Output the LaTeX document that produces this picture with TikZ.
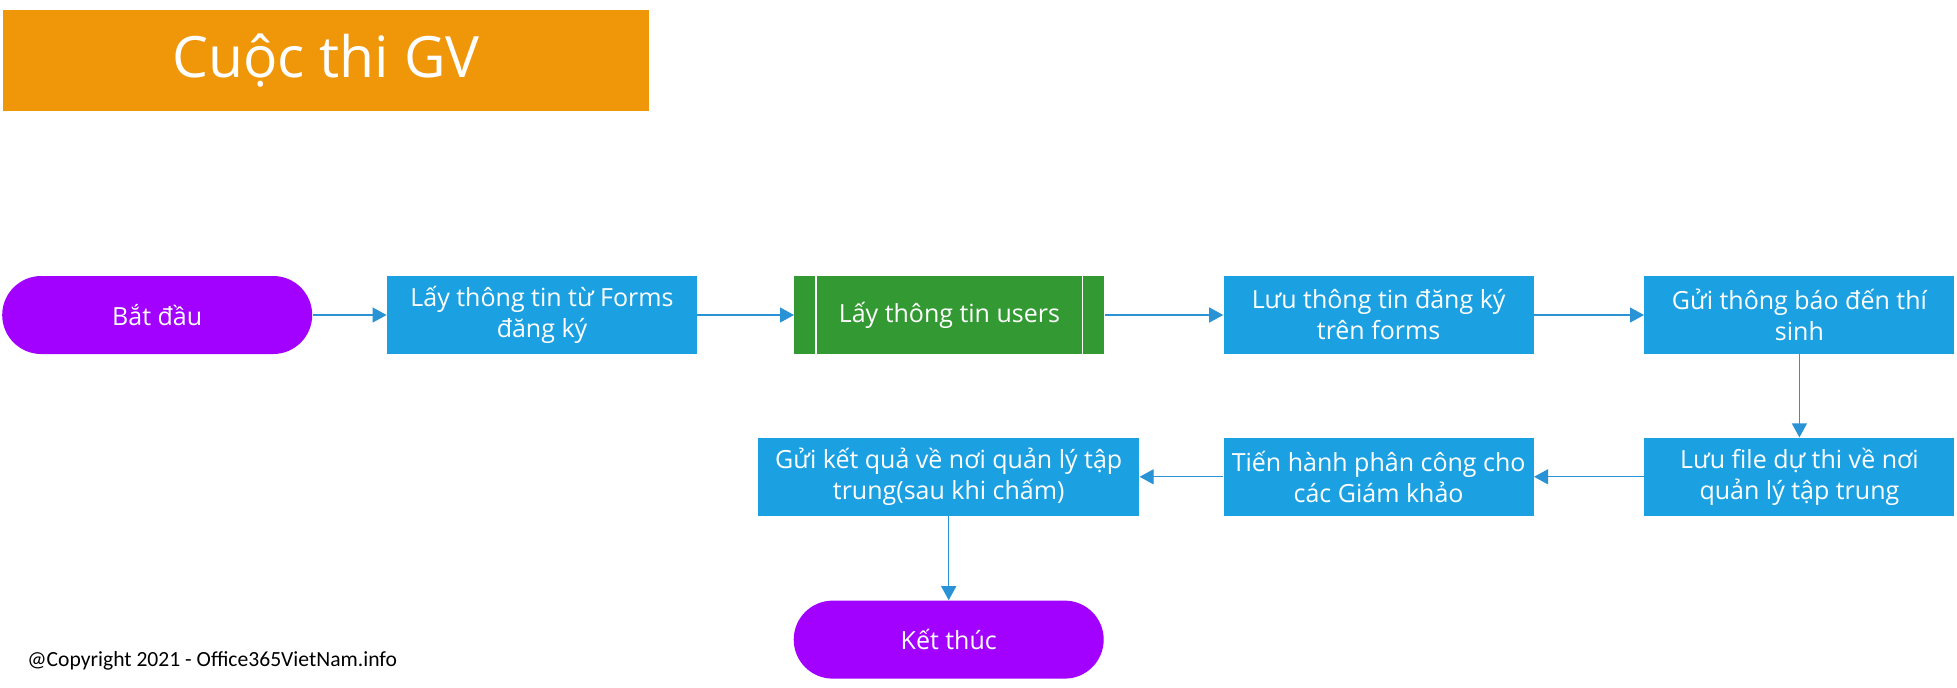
\documentclass[tikz,border=0pt]{standalone}
\usepackage{fontspec}
\setmainfont{Open Sans}
\newfontfamily\copyfont{Carlito}
\usetikzlibrary{arrows.meta,positioning}

\definecolor{metroblue}{HTML}{1BA1E2}
\definecolor{metrogreen}{HTML}{339933}
\definecolor{metropurple}{HTML}{A200FF}
\definecolor{metroorange}{HTML}{F09609}
\definecolor{linkblue}{HTML}{2A93D5}

\tikzset{
	process/.style={rectangle,fill=metroblue,text=white,minimum width=155pt,minimum height=39pt,inner sep=0pt,align=center,font=\fontsize{12.5}{15.5}\selectfont},
	terminal/.style={process,fill=metropurple,rounded corners=19.5pt},
	subproc/.style={process,fill=metrogreen},
	flow/.style={->,color=linkblue,line width=0.6pt}
}

\begin{document}
\begin{tikzpicture}[>={Triangle[length=7pt,width=7.5pt]},node distance=40pt]
		\useasboundingbox (0,0) rectangle (978.5pt,-343.5pt);
		\node[fill=metroorange,text=white,minimum width=323pt,minimum height=50.5pt,inner sep=0pt,font=\fontsize{28.5}{30}\selectfont] (title) at (163pt,-30.25pt) {Cuộc thi GV};
		\node[terminal] (start) at (78.6pt,-157.5pt) {Bắt đầu};
		\node[process] [right=37pt of start] (forms) {Lấy thông tin từ Forms\\đăng ký};
		\node[subproc] [right=48.3pt of forms] (users) {Lấy thông tin users};
		\draw[white,line width=0.6pt] ([xshift=11pt]users.north west) -- ([xshift=11pt]users.south west)
			([xshift=-11pt]users.north east) -- ([xshift=-11pt]users.south east);
		\node[process] [right=59.2pt of users] (save) {Lưu thông tin đăng ký\\trên forms};
		\node[process] [right=55pt of save] (notify) {Gửi thông báo đến thí\\sinh};
		\node[process] [below=41.5pt of notify] (store) {Lưu file dự thi về nơi\\quản lý tập trung};
		\node[process] [left=55pt of store] (assign) {Tiến hành phân công cho\\các Giám khảo};
		\node[process,minimum width=190.5pt] [left=41.8pt of assign] (result) {Gửi kết quả về nơi quản lý tập\\trung(sau khi chấm)};
		\node[terminal] [below=42pt of result] (finish) {Kết thúc};
		\node[anchor=west,inner sep=0pt,font=\copyfont\fontsize{10.8}{12}\selectfont] (copy) at (13.5pt,-330.5pt) {@Copyright 2021 - Office365VietNam.info};
		\path[flow]
			(start) edge (forms)
			(forms) edge (users)
			(users) edge (save)
			(save) edge (notify)
			(notify) edge (store)
			(store) edge (assign)
			(assign) edge (result)
			(result) edge (finish);
	\end{tikzpicture}
\end{document}
